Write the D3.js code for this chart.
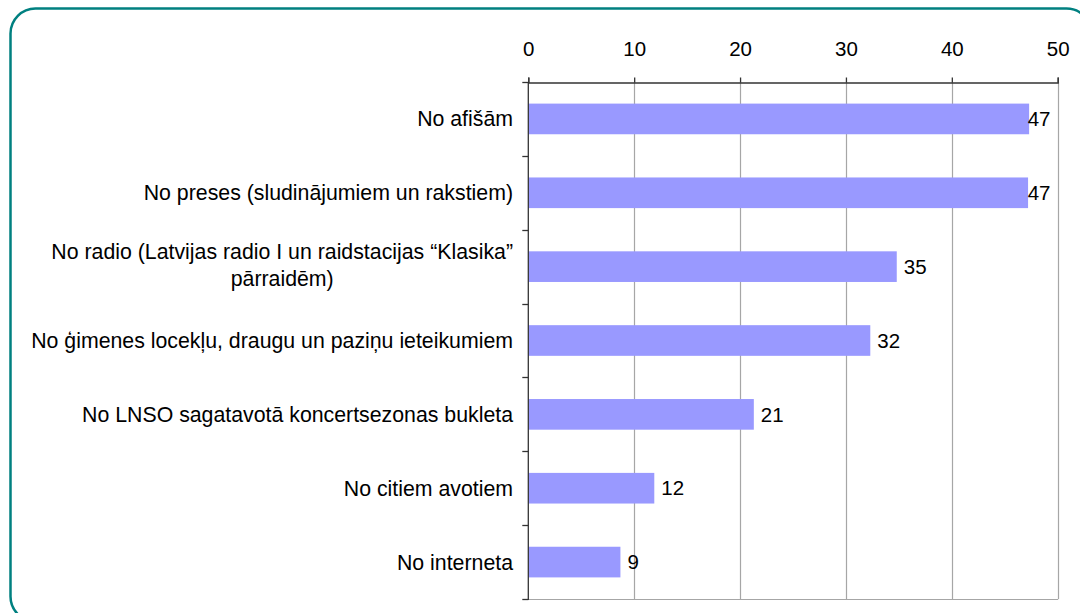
<!DOCTYPE html>
<html>
<head>
<meta charset="utf-8">
<script src="https://cdn.jsdelivr.net/npm/d3@7"></script>
<style>
html,body{margin:0;padding:0;background:#fff;}
svg{display:block;}
text{font-family:"Liberation Sans", Arial, sans-serif;fill:#000;}
</style>
</head>
<body>
<svg id="chart" width="1080" height="613"></svg>
<script>
const categories = [
  "No afišām",
  "No preses (sludinājumiem un rakstiem)",
  "No radio (Latvijas radio I un raidstacijas “Klasika”\npārraidēm)",
  "No ģimenes locekļu, draugu un paziņu ieteikumiem",
  "No LNSO sagatavotā koncertsezonas bukleta",
  "No citiem avotiem",
  "No interneta"
];
const values = [47.3, 47.2, 34.8, 32.3, 21.3, 11.9, 8.7];
const xTicks = [0, 10, 20, 30, 40, 50];

const svg = d3.select("#chart");
const plot = {left: 528.3, right: 1057.7, top: 82, bottom: 599};
const labelFont = 21.3;
const numFont = 20.5;

// outer rounded border
svg.append("rect")
  .attr("x", 10.5).attr("y", 8.5)
  .attr("width", 1081).attr("height", 613)
  .attr("rx", 25).attr("ry", 25)
  .attr("fill", "#fff")
  .attr("stroke", "#008080").attr("stroke-width", 2.5);

const x = d3.scaleLinear().domain([0, 50]).range([plot.left, plot.right]);
const y = d3.scaleBand().domain(categories).range([plot.top, plot.bottom]).paddingInner(0).paddingOuter(0);
const barFrac = 0.415;

// gridlines
svg.append("g").selectAll("line")
  .data(xTicks.filter(t => t > 0))
  .join("line")
  .attr("x1", d => Math.round(x(d)) + 0.5).attr("x2", d => Math.round(x(d)) + 0.5)
  .attr("y1", plot.top).attr("y2", plot.bottom)
  .attr("stroke", "#a6a6a6").attr("stroke-width", 1.2);

// bottom plot line
svg.append("line")
  .attr("x1", plot.left).attr("x2", plot.right + 0.5)
  .attr("y1", plot.bottom + 0.5).attr("y2", plot.bottom + 0.5)
  .attr("stroke", "#a6a6a6").attr("stroke-width", 1.2);

// bars
svg.append("g").selectAll("rect")
  .data(categories)
  .join("rect")
  .attr("x", x(0))
  .attr("y", (d) => y(d) + y.bandwidth() * (1 - barFrac) / 2)
  .attr("width", (d, i) => x(values[i]) - x(0))
  .attr("height", y.bandwidth() * barFrac)
  .attr("fill", "#9999ff");

// top axis
const xAxis = d3.axisTop(x).tickValues(xTicks).tickSize(5).tickSizeOuter(5).tickFormat(d3.format("d"));
const gx = svg.append("g").attr("transform", `translate(0,${plot.top + 0.5})`).call(xAxis);
gx.select(".domain").attr("stroke", "#333").attr("stroke-width", 1.3);
gx.selectAll(".tick line").attr("stroke", "#333").attr("stroke-width", 1.3);
gx.selectAll(".tick text")
  .attr("font-size", numFont).attr("font-family", "Liberation Sans, Arial, sans-serif")
  .attr("fill", "#000").attr("y", -27).attr("dy", 0);

// left axis line and ticks at band boundaries
const boundaries = categories.map(c => y(c)).concat([plot.bottom]);
svg.append("line")
  .attr("x1", plot.left).attr("x2", plot.left)
  .attr("y1", plot.top).attr("y2", plot.bottom + 1)
  .attr("stroke", "#333").attr("stroke-width", 1.3);
svg.append("g").selectAll("line")
  .data(boundaries)
  .join("line")
  .attr("x1", plot.left - 6).attr("x2", plot.left)
  .attr("y1", d => Math.round(d) + 0.5).attr("y2", d => Math.round(d) + 0.5)
  .attr("stroke", "#333").attr("stroke-width", 1.3);

// category labels
const labelRight = 513;
const lineH = 27;
const lg = svg.append("g");
categories.forEach((c) => {
  const lines = c.split("\n");
  const cy = y(c) + y.bandwidth() / 2;
  const t = lg.append("text")
    .attr("font-size", labelFont)
    .attr("text-anchor", "middle");
  lines.forEach((ln, k) => {
    t.append("tspan")
      .attr("y", cy + (k - (lines.length - 1) / 2) * lineH + labelFont * 0.35 - (lines.length > 1 ? 2 : 0))
      .text(ln);
  });
  let maxW = 0;
  t.selectAll("tspan").each(function(){ maxW = Math.max(maxW, this.getComputedTextLength()); });
  t.selectAll("tspan").attr("x", labelRight - maxW / 2);
});

// value labels
svg.append("g").selectAll("text")
  .data(categories)
  .join("text")
  .attr("font-size", numFont)
  .attr("x", (d, i) => Math.min(x(values[i]) + 7, x(50) - 30))
  .attr("y", d => y(d) + y.bandwidth() / 2 + numFont * 0.35)
  .text((d, i) => d3.format(".0f")(values[i]));
</script>
</body>
</html>
